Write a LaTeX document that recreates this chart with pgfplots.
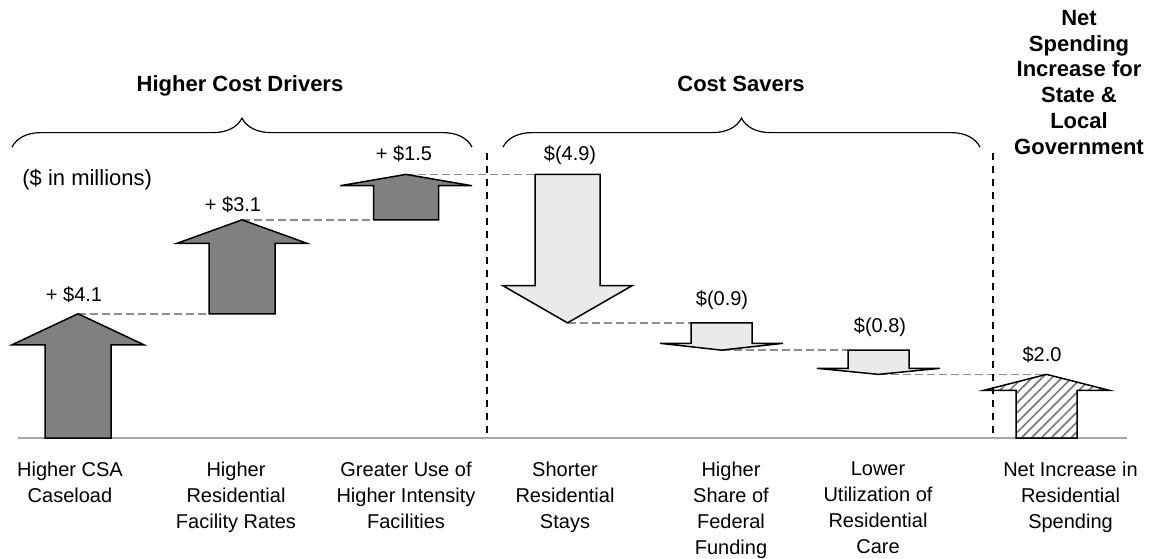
\documentclass[border=0pt]{standalone}
\usepackage{fontspec}
\setmainfont{Liberation Sans}
\usepackage{pgfplots}
\pgfplotsset{compat=1.18}
\usetikzlibrary{decorations.pathreplacing, patterns.meta}
\definecolor{upfill}{HTML}{808080}
\definecolor{downfill}{HTML}{EAEAEA}
\definecolor{linkgray}{HTML}{8C8C8C}
\definecolor{basegray}{HTML}{A6A6A6}
\definecolor{hatchgray}{HTML}{7A7A7A}

\begin{document}
\begin{tikzpicture}
\begin{axis}[
  scale only axis,
  width=575.5pt, height=279pt,
  xmin=0, xmax=11.51,
  ymin=-3.96, ymax=14.455,
  axis lines=none,
  xtick=\empty, ytick=\empty,
  clip=false,
  every axis plot/.append style={mark=none},
  arrowup/.style={fill=upfill, draw=black, line width=0.75pt},
  arrowdown/.style={fill=downfill, draw=black, line width=0.75pt},
  link/.style={linkgray, line width=0.75pt, dash pattern=on 4pt off 2pt},
  sep/.style={black, line width=0.7pt, dash pattern=on 3.5pt off 3pt},
]
% keep the whole axis area as the picture
\path (rel axis cs:0,0) rectangle (rel axis cs:1,1);

% baseline
\addplot[basegray, line width=1pt] coordinates {(0.18,0) (11.27,0)};

% connectors: running total 0 -> 4.1 -> 7.2 -> 8.7 -> 3.8 -> 2.9 -> 2.1
\addplot[link] coordinates {(0.78,4.1) (2.09,4.1)};
\addplot[link] coordinates {(2.42,7.2) (3.735,7.2)};
\addplot[link] coordinates {(4.06,8.7) (5.35,8.7)};
\addplot[link] coordinates {(5.675,3.8) (6.91,3.8)};
\addplot[link] coordinates {(7.215,2.9) (8.48,2.9)};
\addplot[link] coordinates {(8.785,2.1) (10.465,2.1)};

% section separators
\addplot[sep] coordinates {(4.87,9.41) (4.87,0)};
\addplot[sep] coordinates {(9.93,9.41) (9.93,0)};

% higher cost drivers: +4.1, +3.1, +1.5
\addplot[arrowup] coordinates {(0.45,0) (0.45,3.075) (0.12,3.075) (0.78,4.1) (1.44,3.075) (1.11,3.075) (1.11,0)} -- cycle;
\addplot[arrowup] coordinates {(2.09,4.1) (2.09,6.425) (1.77,6.425) (2.42,7.2) (3.07,6.425) (2.75,6.425) (2.75,4.1)} -- cycle;
\addplot[arrowup] coordinates {(3.735,7.2) (3.735,8.325) (3.40,8.325) (4.06,8.7) (4.72,8.325) (4.385,8.325) (4.385,7.2)} -- cycle;

% cost savers: -4.9, -0.9, -0.8
\addplot[arrowdown] coordinates {(5.35,8.7) (5.35,5.025) (5.03,5.025) (5.675,3.8) (6.32,5.025) (6.00,5.025) (6.00,8.7)} -- cycle;
\addplot[arrowdown] coordinates {(6.91,3.8) (6.91,3.125) (6.60,3.125) (7.215,2.9) (7.83,3.125) (7.52,3.125) (7.52,3.8)} -- cycle;
\addplot[arrowdown] coordinates {(8.48,2.9) (8.48,2.3) (8.17,2.3) (8.785,2.1) (9.40,2.3) (9.09,2.3) (9.09,2.9)} -- cycle;

% net increase
\addplot[draw=black, line width=0.75pt, pattern={Lines[angle=45,distance=3.5pt,line width=0.85pt]}, pattern color=hatchgray]
  coordinates {(10.16,0) (10.16,1.575) (9.84,1.575) (10.465,2.1) (11.09,1.575) (10.77,1.575) (10.77,0)} -- cycle;

% braces
\draw[line width=0.6pt, decorate, decoration={brace, amplitude=14.5pt}]
  (axis cs:0.12,9.60) -- (axis cs:4.72,9.60);
\draw[line width=0.6pt, decorate, decoration={brace, amplitude=14.5pt}]
  (axis cs:5.03,9.60) -- (axis cs:9.80,9.60);

% value labels
\begin{scope}[every node/.style={font=\fontsize{10}{12}\selectfont, anchor=base, inner sep=0pt}]
\node at (axis cs:0.74,4.49) {+ \$4.1};
\node at (axis cs:2.33,7.46) {+ \$3.1};
\node at (axis cs:4.04,9.17) {+ \$1.5};
\node at (axis cs:5.70,9.17) {\$(4.9)};
\node at (axis cs:7.22,4.36) {\$(0.9)};
\node at (axis cs:8.80,3.47) {\$(0.8)};
\node at (axis cs:10.42,2.51) {\$2.0};
\end{scope}

\node[font=\fontsize{11}{13}\selectfont, anchor=base west, inner sep=0pt] at (axis cs:0.22,8.32) {(\$ in millions)};

% group titles
\begin{scope}[every node/.style={font=\bfseries\fontsize{11}{12.9}\selectfont, inner sep=0pt, align=center}]
\node[anchor=base] at (axis cs:2.40,11.42) {Higher Cost Drivers};
\node[anchor=base] at (axis cs:7.41,11.42) {Cost Savers};
\node[anchor=north] at (axis cs:10.79,14.13) {Net\\Spending\\Increase for\\State \&\\Local\\Government};
\end{scope}

% category labels
\begin{scope}[every node/.style={font=\fontsize{10}{13}\selectfont, inner sep=0pt, align=center, anchor=north}]
\node at (axis cs:0.70,-0.776) {Higher CSA\\Caseload};
\node at (axis cs:2.36,-0.776) {Higher\\Residential\\Facility Rates};
\node at (axis cs:4.06,-0.776) {Greater Use of\\Higher Intensity\\Facilities};
\node at (axis cs:5.65,-0.776) {Shorter\\Residential\\Stays};
\node at (axis cs:7.31,-0.776) {Higher\\Share of\\Federal\\Funding};
\node at (axis cs:8.78,-0.776) {Lower\\Utilization of\\Residential\\Care};
\node at (axis cs:10.705,-0.776) {Net Increase in\\Residential\\Spending};
\end{scope}
\end{axis}
\end{tikzpicture}
\end{document}
